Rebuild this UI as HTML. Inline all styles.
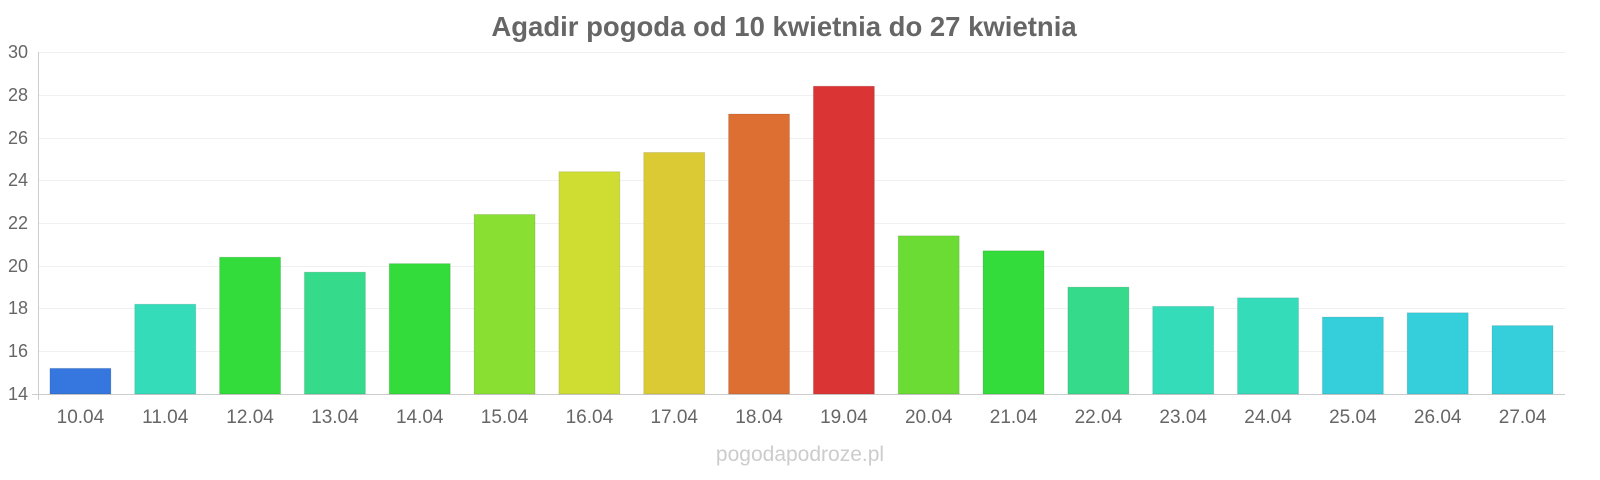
<!DOCTYPE html>
<html><head><meta charset="utf-8"><style>
body{margin:0;background:#fff;}
svg{display:block;font-family:"Liberation Sans",sans-serif;}
</style></head><body>
<svg width="1600" height="480" viewBox="0 0 1600 480">
<text x="784" y="36" text-anchor="middle" font-size="27.5" font-weight="bold" fill="#666">Agadir pogoda od 10 kwietnia do 27 kwietnia</text>
<g stroke="#f0f0f0" stroke-width="1">
<line x1="38" x2="1565" y1="52.5" y2="52.5"/>
<line x1="38" x2="1565" y1="95.5" y2="95.5"/>
<line x1="38" x2="1565" y1="138.5" y2="138.5"/>
<line x1="38" x2="1565" y1="180.5" y2="180.5"/>
<line x1="38" x2="1565" y1="223.5" y2="223.5"/>
<line x1="38" x2="1565" y1="266.5" y2="266.5"/>
<line x1="38" x2="1565" y1="308.5" y2="308.5"/>
<line x1="38" x2="1565" y1="351.5" y2="351.5"/>
</g>
<line x1="38.5" x2="38.5" y1="52" y2="400" stroke="#ccc"/>
<line x1="32" x2="1565" y1="394.5" y2="394.5" stroke="#ccc"/>
<g font-size="18" fill="#666" text-anchor="end">
<text x="28" y="58">30</text><text x="28" y="101">28</text><text x="28" y="144">26</text><text x="28" y="186">24</text><text x="28" y="229">22</text><text x="28" y="272">20</text><text x="28" y="314">18</text><text x="28" y="357">16</text><text x="28" y="400">14</text>
</g>
<g id="bars"></g>
<g id="labels" font-size="19" fill="#666" text-anchor="middle"></g>
<text x="800" y="461" text-anchor="middle" font-size="21" fill="#ccc">pogodapodroze.pl</text>
<script>
var v=[15.2,18.2,20.4,19.7,20.1,22.4,24.4,25.3,27.1,28.4,21.4,20.7,19.0,18.1,18.5,17.6,17.8,17.2];
var c=["#3577de","#35dcba","#33dc3a","#35db8a","#33dc3a","#8adf33","#cfdd33","#dbca33","#dd6f33","#db3434","#6bdc33","#33dc3a","#35db8a","#35dcba","#35dcba","#35cfdb","#35cfdb","#35cfdb"];
var b=document.getElementById("bars"),l=document.getElementById("labels"),ns="http://www.w3.org/2000/svg";
for(var i=0;i<18;i++){var cx=38+84.83*(i+0.5),y=394-(v[i]-14)*21.375;
var r=document.createElementNS(ns,"rect");r.setAttribute("x",cx-30.5);r.setAttribute("y",y);r.setAttribute("width",61);r.setAttribute("height",394-y);r.setAttribute("fill",c[i]);r.setAttribute("stroke","rgba(0,0,0,0.1)");b.appendChild(r);
var t=document.createElementNS(ns,"text");t.setAttribute("x",cx);t.setAttribute("y",423);t.textContent=(10+i)+".04";l.appendChild(t);}
</script>
</svg>
</body></html>
